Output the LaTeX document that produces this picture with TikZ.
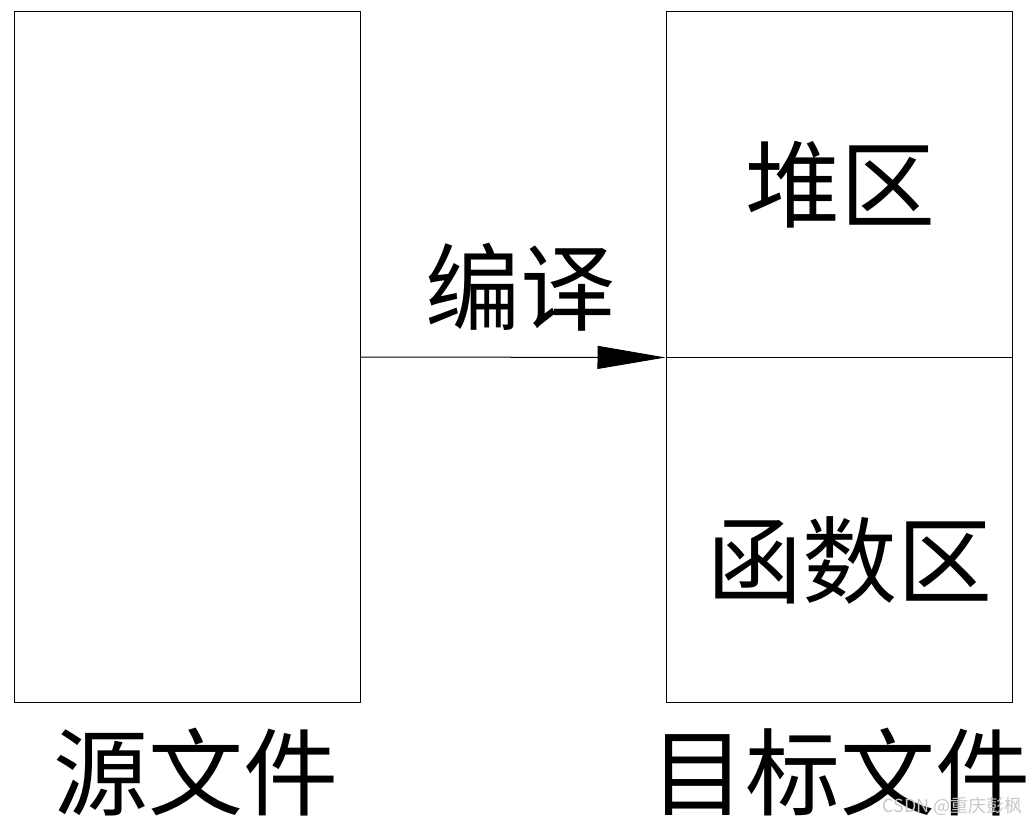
\documentclass[tikz,border=0pt]{standalone}
\usepackage{fontspec}
\newfontfamily\cjk{Noto Sans CJK SC}
\usetikzlibrary{arrows.meta,positioning}

\begin{document}
\begin{tikzpicture}[x=1pt, y=-1pt, >={Triangle[length=68pt, width=23pt]},
  box/.style={draw, line width=1pt, minimum width=346pt, inner sep=0pt},
  lbl/.style={font=\cjk\fontsize{95}{95}\selectfont, inner sep=0pt}]
\useasboundingbox (0,0) rectangle (1028,824);
\node[box, minimum height=690pt] (src) at (187,357) {};
\node[box, minimum height=345pt] (heap) at (839,184.5) {};
\node[box, minimum height=345pt] (func) at (839,529.5) {};
\draw[->, line width=1pt] (src.east) -- (heap.south west);
\node[lbl] (compile) at (520,287) {编译};
\node[lbl] (heaptxt) at (840,185) {堆区};
\node[lbl] (functxt) at (850,560) {函数区};
\node[lbl] (srctxt) at (196,772) {源文件};
\node[lbl] (objtxt) at (840,772) {目标文件};
% watermark
\node[font=\cjk\fontsize{18}{18}\selectfont, text=black!22, anchor=east, inner sep=0pt] (mark) at (1023,806) {CSDN @重庆彭枫};
\end{tikzpicture}
\end{document}
